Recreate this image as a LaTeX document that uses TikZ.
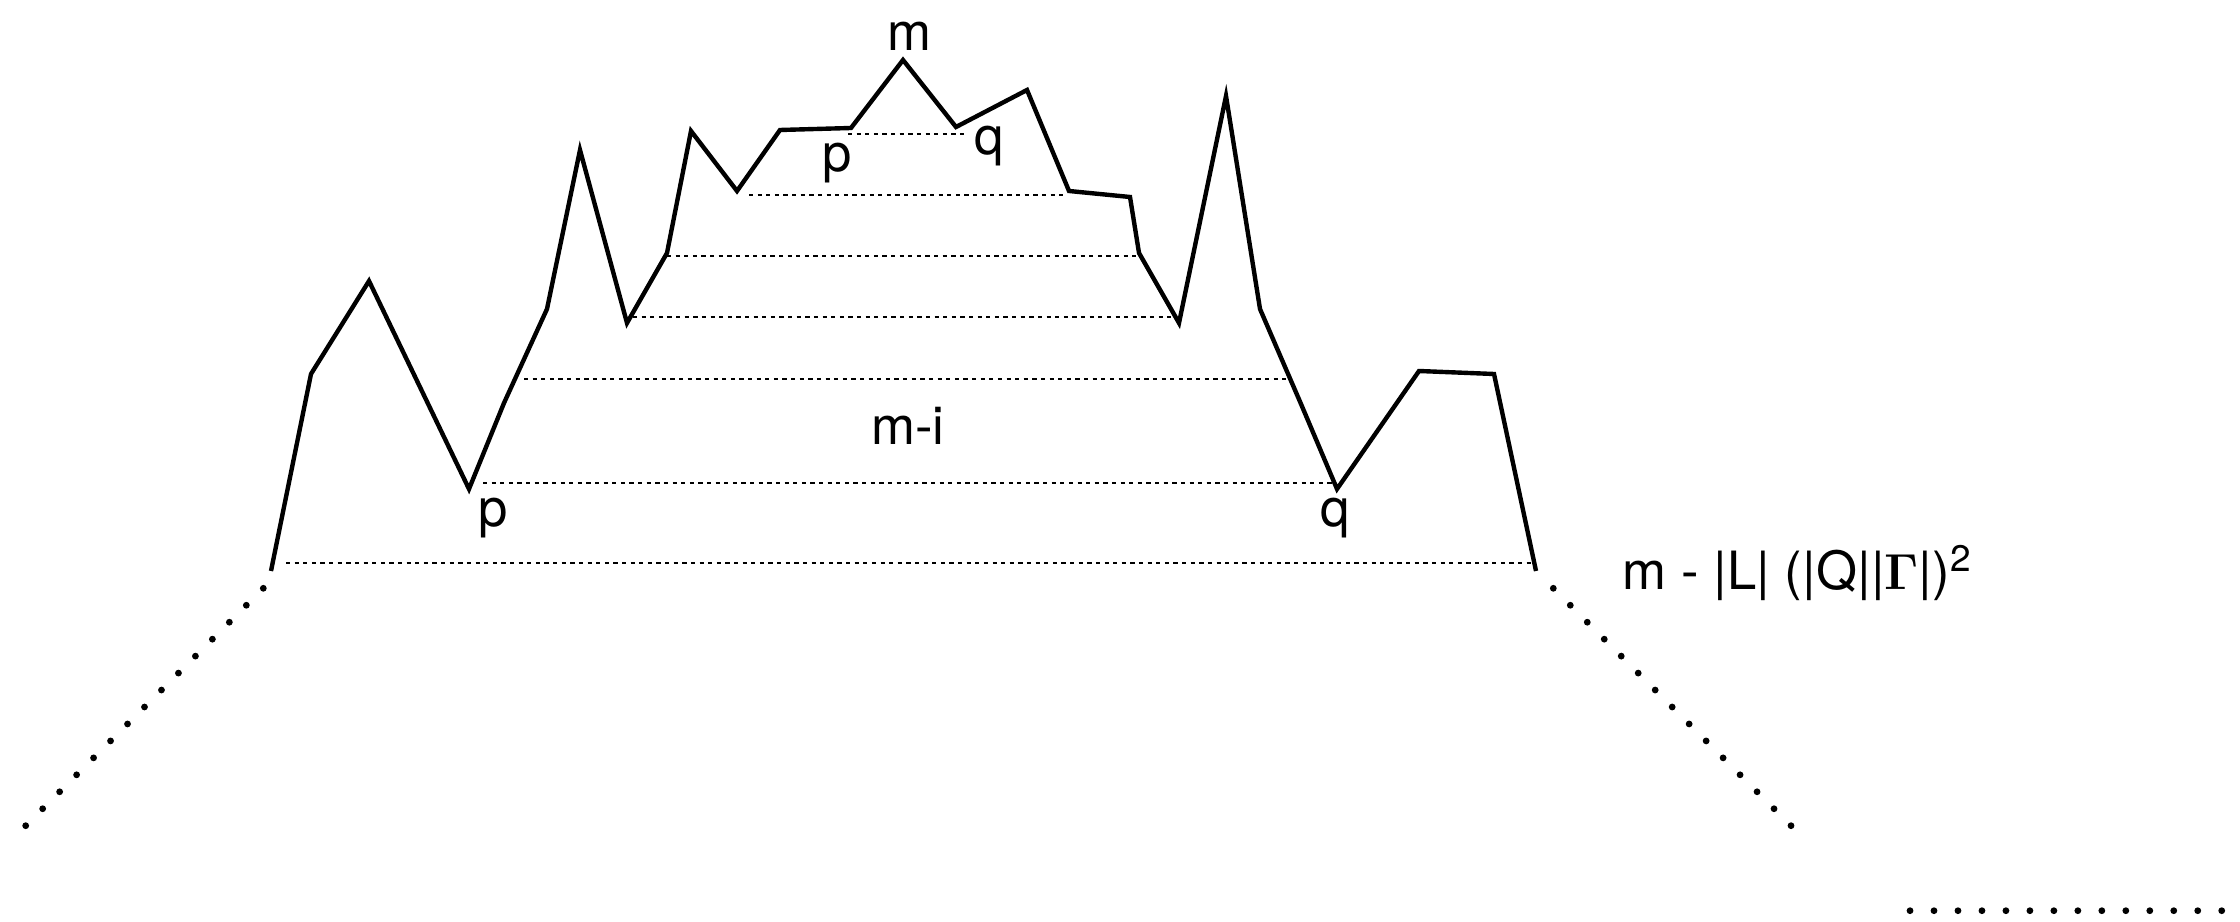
\documentclass[tikz,border=0pt]{standalone}
\usepackage[no-math]{fontspec}
\setmainfont{TeX Gyre Heros}
\usepackage{tikz}
\usetikzlibrary{calc}

\begin{document}
\begin{tikzpicture}[
  x=0.01cm, y=-0.01cm,
  ridge/.style={line width=1.25pt, line join=miter},
  cutline/.style={line width=0.6pt, dash pattern=on 1.2pt off 1.25pt},
  trail/.style={fill=black},
  every node/.style={inner sep=0pt, font=\fontsize{15}{18}\selectfont}
]
  \useasboundingbox (0,0) rectangle (2240,922);

  \draw[ridge] (271,571) -- (311,374) -- (369,281) -- (469,489) -- (504,403)
    -- (547,309) -- (580,150) -- (627,323) -- (667,253) -- (691,131)
    -- (737,191) -- (780,130) -- (851,128) -- (903,60) -- (956,127)
    -- (1027,90) -- (1069,191) -- (1130,197) -- (1139,253) -- (1179,323)
    -- (1226,96) -- (1260,309) -- (1301,404) -- (1337,489) -- (1419,371)
    -- (1494,374) -- (1536,571);

  \draw[cutline] (848,134) -- (968,134);
  \draw[cutline] (749,195) -- (1064,195);
  \draw[cutline] (667,256) -- (1136,256);
  \draw[cutline] (633,317) -- (1174,317);
  \draw[cutline] (524,379) -- (1290,379);
  \draw[cutline] (483,483) -- (1333,483);
  \draw[cutline] (286,563) -- (1531,563);

  \coordinate (lefttop) at (263.3,588.3);
  \coordinate (leftend) at (25.7,825.7);
  \coordinate (righttop) at (1553.3,588.3);
  \coordinate (rightend) at (1791,825.7);
  \coordinate (tailstart) at (1910,910.7);
  \coordinate (tailend) at (2221.7,910.7);

  \foreach \k in {0,...,14}{
    \fill[trail] ($(lefttop)!\k/14!(leftend)$) circle (3.4);
    \fill[trail] ($(righttop)!\k/14!(rightend)$) circle (3.4);
  }
  \foreach \k in {0,...,13}
    \fill[trail] ($(tailstart)!\k/13!(tailend)$) circle (3.4);

  \node (top) at (909,36) {m};
  \node (ptop) at (837,163) {p};
  \node (qtop) at (989,146) {q};
  \node (mi) at (908,426) {m-i};
  \node (plow) at (493,518) {p};
  \node (qlow) at (1335,518) {q};
  \node[anchor=base west] (bound) at (1622,590)
    {m - |L| (|Q||$\mathbf{\Gamma}$|)\textsuperscript{2}};
\end{tikzpicture}
\end{document}
